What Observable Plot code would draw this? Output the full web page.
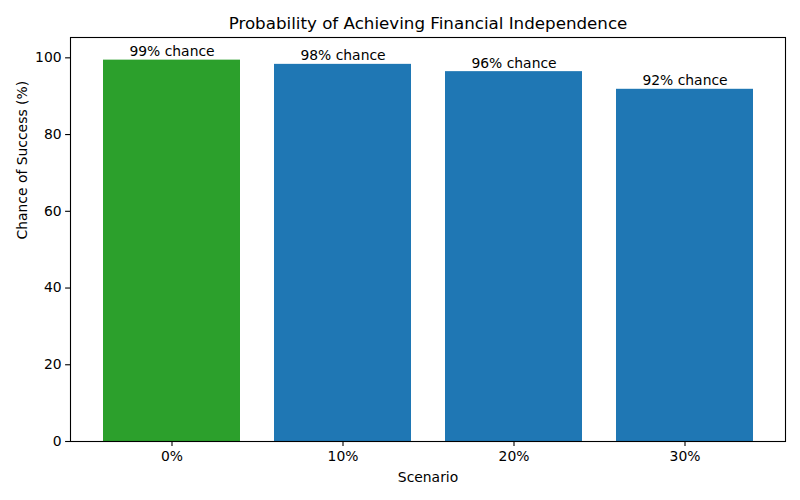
<!DOCTYPE html>
<html>
<head>
<meta charset="utf-8">
<script src="https://cdn.jsdelivr.net/npm/d3@7"></script>
<script src="https://cdn.jsdelivr.net/npm/@observablehq/plot@0.6"></script>
<style>
  html, body { margin: 0; padding: 0; background: #fff; }
  svg { display: block; }
</style>
</head>
<body>
<div id="chart"></div>
<script>
const scenarios = ["0%", "10%", "20%", "30%"];
const successValues = [99.4, 98.3, 96.4, 91.8];
const barLabels = ["99% chance", "98% chance", "96% chance", "92% chance"];
const barColors = ["#2ca02c", "#1f77b4", "#1f77b4", "#1f77b4"];
const yTicks = [0, 20, 40, 60, 80, 100];

const data = scenarios.map((s, i) => ({
  scenario: s, value: successValues[i], label: barLabels[i], color: barColors[i]
}));

const font = "DejaVu Sans, sans-serif";

const chart = Plot.plot({
  width: 800,
  height: 500,
  marginLeft: 70,
  marginRight: 15,
  marginTop: 37,
  marginBottom: 59,
  style: { fontFamily: font, fontSize: "13.9px", color: "#000", background: "#fff" },
  x: { domain: scenarios, padding: 0.2, paddingOuter: 0.19, label: null, axis: null },
  y: { domain: [0, 105.3], label: null, axis: null },
  marks: [
    Plot.barY(data, { x: "scenario", y: "value", fill: "color" }),
    Plot.text(data, {
      x: "scenario", y: "value", text: "label", lineAnchor: "bottom", dy: -4,
      fontSize: 13.9, fill: "#000"
    }),
    Plot.frame({ stroke: "#000", strokeWidth: 1.1 }),
    Plot.axisY(yTicks, {
      tickSize: 4.9, tickPadding: 4, stroke: "#000", strokeWidth: 1.1,
      label: null, fontSize: 13.9, fill: "#000"
    }),
    Plot.axisX(scenarios, {
      tickSize: 4.9, tickPadding: 5, stroke: "#000", strokeWidth: 1.1,
      label: null, fontSize: 13.9, fill: "#000"
    }),
    Plot.text(["Probability of Achieving Financial Independence"], {
      frameAnchor: "top", dy: -14, lineAnchor: "middle", fontSize: 16.7, fill: "#000"
    }),
    Plot.text(["Scenario"], {
      frameAnchor: "bottom", dy: 36, lineAnchor: "middle", fontSize: 13.9, fill: "#000"
    }),
    Plot.text(["Chance of Success (%)"], {
      frameAnchor: "left", dx: -48, rotate: -90, lineAnchor: "middle", fontSize: 13.9, fill: "#000"
    })
  ]
});

document.getElementById("chart").appendChild(chart);
</script>
</body>
</html>
